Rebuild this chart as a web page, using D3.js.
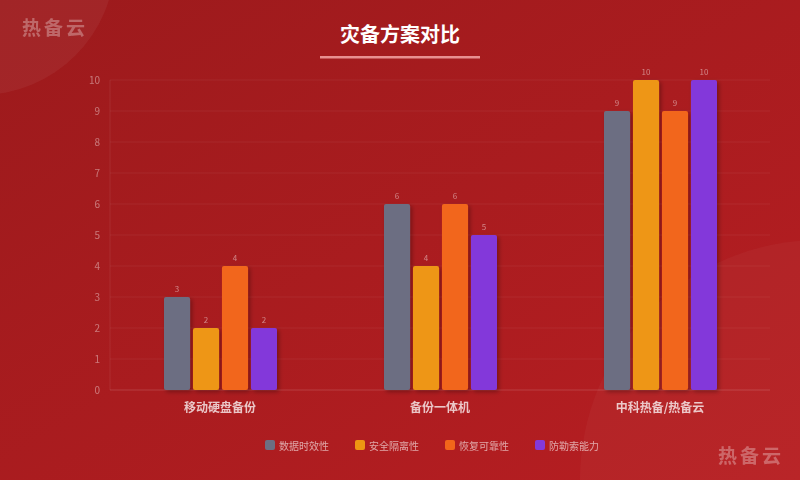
<!DOCTYPE html>
<html><head><meta charset="utf-8">
<script src="https://cdn.jsdelivr.net/npm/d3@7"></script>
<style>body{margin:0;overflow:hidden}text{font-family:"Noto Sans CJK SC","Noto Sans",sans-serif}</style>
</head><body><div id="chart"></div>
<script>
var categories = ['移动硬盘备份', '备份一体机', '中科热备/热备云'];
var seriesNames = ['数据时效性', '安全隔离性', '恢复可靠性', '防勒索能力'];
var seriesColors = ['#6c6e82', '#ee9612', '#f2661a', '#8339da'];
var values = [
    [3, 2, 4, 2],
    [6, 4, 6, 5],
    [9, 10, 9, 10]
];
var yTicks = d3.range(0, 11);

var width = 800, height = 480;
var m = {left: 110, right: 30, top: 80, bottom: 90};

var svg = d3.select('#chart').append('svg').attr('width', width).attr('height', height);
var defs = svg.append('defs');
var bg = defs.append('linearGradient').attr('id', 'bg').attr('x1', 0).attr('y1', 0).attr('x2', 1).attr('y2', 1);
bg.append('stop').attr('offset', '0%').attr('stop-color', '#9c1a1c');
bg.append('stop').attr('offset', '100%').attr('stop-color', '#b71e22');
var sh = defs.append('filter').attr('id', 'sh').attr('x', '-30%').attr('y', '-10%').attr('width', '160%').attr('height', '130%');
sh.append('feDropShadow').attr('dx', 2).attr('dy', 2).attr('stdDeviation', 2).attr('flood-color', '#000').attr('flood-opacity', 0.3);

svg.append('rect').attr('width', width).attr('height', height).attr('fill', 'url(#bg)');
svg.append('circle').attr('cx', -20).attr('cy', -40).attr('r', 135).attr('fill', '#fff').attr('opacity', 0.05);
svg.append('circle').attr('cx', 820).attr('cy', 480).attr('r', 240).attr('fill', '#fff').attr('opacity', 0.03);

svg.append('text').attr('x', 22).attr('y', 35).text('热备云').attr('fill', '#fff').attr('opacity', 0.3)
    .style('font-size', '19px').style('font-weight', 'bold').style('letter-spacing', '3px');
svg.append('text').attr('x', 718).attr('y', 463).text('热备云').attr('fill', '#fff').attr('opacity', 0.3)
    .style('font-size', '19px').style('font-weight', 'bold').style('letter-spacing', '3px');

svg.append('text').attr('x', 400).attr('y', 42).attr('text-anchor', 'middle').text('灾备方案对比')
    .attr('fill', '#fff').style('font-size', '20px').style('font-weight', 'bold');
svg.append('rect').attr('x', 320).attr('y', 56).attr('width', 160).attr('height', 2.5).attr('fill', '#e89090');

var x0 = d3.scaleBand().domain(categories).range([m.left, width - m.right]);
var x1 = d3.scaleBand().domain(seriesNames).range([0, 113]).paddingInner(0.1);
var y = d3.scaleLinear().domain([0, 10]).range([height - m.bottom, m.top]);

var g = svg.append('g');
g.selectAll('line.grid').data(yTicks).enter().append('line')
    .attr('x1', m.left).attr('x2', width - m.right)
    .attr('y1', function(d) { return y(d); }).attr('y2', function(d) { return y(d); })
    .attr('stroke', '#fff').attr('stroke-opacity', function(d) { return d === 0 ? 0.15 : 0.06; });
g.append('line').attr('x1', m.left).attr('x2', m.left).attr('y1', y(0)).attr('y2', y(10))
    .attr('stroke', '#fff').attr('stroke-opacity', 0.08);
g.selectAll('text.yt').data(yTicks).enter().append('text')
    .attr('x', m.left - 10).attr('y', function(d) { return y(d) + 4; })
    .attr('text-anchor', 'end').text(function(d) { return d; })
    .attr('fill', '#fff').attr('opacity', 0.4).style('font-size', '10px');

var grp = g.selectAll('g.grp').data(categories).enter().append('g')
    .attr('transform', function(d) { return 'translate(' + (x0(d) + x0.bandwidth() / 2 - 56) + ',0)'; });
grp.each(function(c, i) {
    var gg = d3.select(this);
    var rows = seriesNames.map(function(s, j) { return {s: s, v: values[i][j], c: seriesColors[j]}; });
    gg.selectAll('rect').data(rows).enter().append('rect')
        .attr('x', function(d) { return x1(d.s); }).attr('width', x1.bandwidth())
        .attr('y', function(d) { return y(d.v); }).attr('height', function(d) { return y(0) - y(d.v); })
        .attr('rx', 2).attr('fill', function(d) { return d.c; }).attr('filter', 'url(#sh)');
    gg.selectAll('text').data(rows).enter().append('text')
        .attr('x', function(d) { return x1(d.s) + x1.bandwidth() / 2; })
        .attr('y', function(d) { return y(d.v) - 5; })
        .attr('text-anchor', 'middle').text(function(d) { return d.v; })
        .attr('fill', '#fff').attr('opacity', 0.45).style('font-size', '8px');
});
g.selectAll('text.xl').data(categories).enter().append('text')
    .attr('x', function(d) { return x0(d) + x0.bandwidth() / 2; }).attr('y', 412)
    .attr('text-anchor', 'middle').text(function(d) { return d; })
    .attr('fill', '#fff').attr('opacity', 0.75).style('font-size', '12px').style('font-weight', 'bold');

var legX = [265, 355, 445, 535];
var leg = svg.selectAll('g.leg').data(seriesNames).enter().append('g')
    .attr('transform', function(d, i) { return 'translate(' + legX[i] + ',440)'; });
leg.append('rect').attr('width', 10).attr('height', 10).attr('rx', 2)
    .attr('fill', function(d, i) { return seriesColors[i]; });
leg.append('text').attr('x', 14).attr('y', 10).text(function(d) { return d; })
    .attr('fill', '#fff').attr('opacity', 0.6).style('font-size', '10px');
</script></body></html>
